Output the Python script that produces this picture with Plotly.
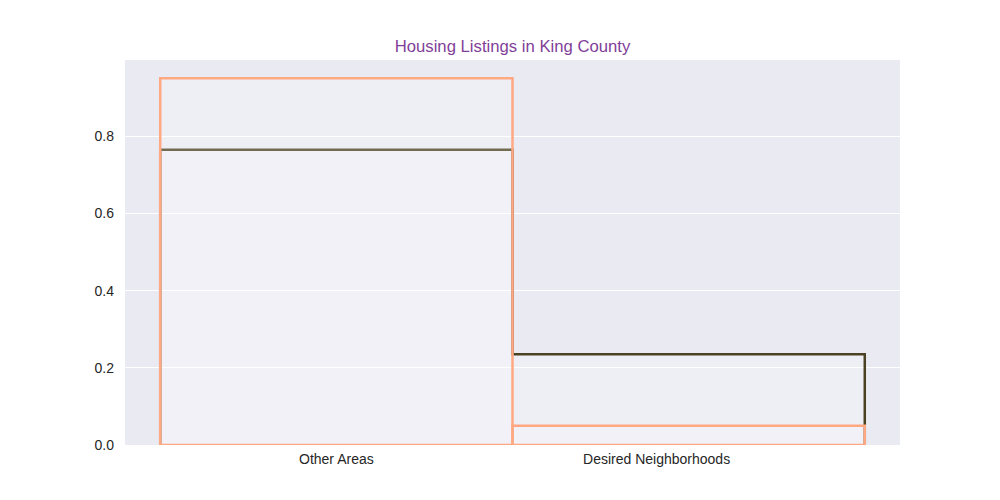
import plotly.graph_objects as go

categories = ["Other Areas", "Desired Neighborhoods"]
tick_positions = [0, 1]
bin_edges = [-0.55, 0.55, 1.65]
all_listings = [0.765, 0.235]
filtered_listings = [0.95, 0.05]

olive = "#4b4222"
salmon = "#ffa882"
fill = "rgba(255,255,255,0.22)"

# step outline for the olive series
sx, sy = [bin_edges[0]], [0]
for i, v in enumerate(all_listings):
    sx += [bin_edges[i], bin_edges[i + 1]]
    sy += [v, v]
sx.append(bin_edges[-1])
sy.append(0)

# rectangles for the salmon series
rx, ry = [], []
for i, v in enumerate(filtered_listings):
    l, r = bin_edges[i], bin_edges[i + 1]
    rx += [l, l, r, r, l, None]
    ry += [0, v, v, 0, 0, None]

fig = go.Figure()
fig.add_trace(go.Scatter(x=sx, y=sy, mode="lines", fill="toself", fillcolor=fill,
                         line=dict(color=olive, width=2.5), hoverinfo="skip",
                         showlegend=False))
fig.add_trace(go.Scatter(x=rx, y=ry, mode="lines", fill="toself", fillcolor=fill,
                         line=dict(color=salmon, width=2.5), hoverinfo="skip",
                         showlegend=False))

fig.update_layout(
    width=1000, height=500,
    margin=dict(l=125, r=100, t=60, b=55),
    paper_bgcolor="white", plot_bgcolor="#eaeaf2",
    font=dict(family="Liberation Sans, Arial, sans-serif", size=14, color="#262626"),
    title=dict(text="Housing Listings in King County", x=0.5125, xanchor="center",
               y=1 - 46 / 500, yanchor="middle", yref="container",
               font=dict(size=16.7, color="#7f3f98")),
    showlegend=False,
)
fig.update_xaxes(range=[-0.66, 1.76], tickvals=tick_positions, ticktext=categories,
                 showgrid=False, zeroline=False, showline=False, ticks="",
                 ticklabelstandoff=4)
fig.update_yaxes(range=[0, 0.9975], tickvals=[0, 0.2, 0.4, 0.6, 0.8],
                 ticktext=["0.0", "0.2", "0.4", "0.6", "0.8"],
                 showgrid=True, gridcolor="white", gridwidth=1, zeroline=False,
                 showline=False, ticks="", ticklabelstandoff=10)

fig.write_html("out.html")
